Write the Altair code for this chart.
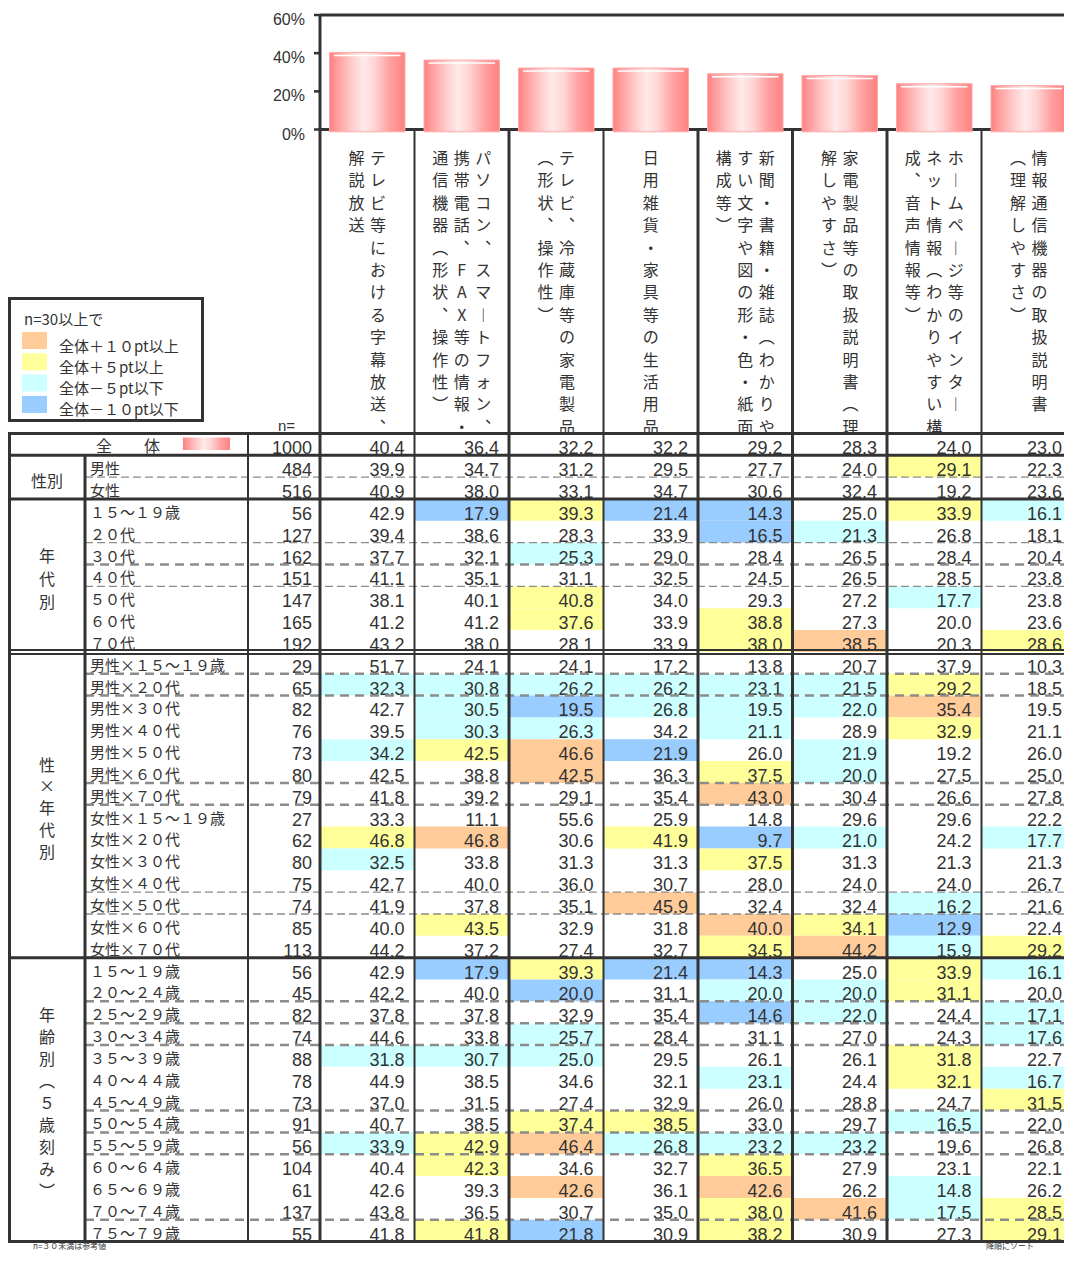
import altair as alt

# ------------------------------------------------------------------ data
items = [
    "テレビ等における字幕放送、解説放送",
    "パソコン、スマートフォン、携帯電話、FAX等の情報・通信機器（形状、操作性）",
    "テレビ、冷蔵庫等の家電製品（形状、操作性）",
    "日用雑貨・家具等の生活用品",
    "新聞・書籍・雑誌（わかりやすい文字や図の形・色・紙面構成等）",
    "家電製品等の取扱説明書（理解しやすさ）",
    "ホームページ等のインターネット情報（わかりやすい構成、音声情報等）",
    "情報通信機器の取扱説明書（理解しやすさ）",
]
# the same headers as they are wrapped in the picture (right-most line first)
item_lines = [
    ["テレビ等における字幕放送、", "解説放送"],
    ["パソコン、スマートフォン、", "携帯電話、FAX等の情報・", "通信機器（形状、操作性）"],
    ["テレビ、冷蔵庫等の家電製品", "（形状、操作性）"],
    ["日用雑貨・家具等の生活用品"],
    ["新聞・書籍・雑誌（わかりや", "すい文字や図の形・色・紙面", "構成等）"],
    ["家電製品等の取扱説明書（理", "解しやすさ）"],
    ["ホームページ等のインター", "ネット情報（わかりやすい構", "成、音声情報等）"],
    ["情報通信機器の取扱説明書", "（理解しやすさ）"],
]

row_labels = [
    "全　　体",
    "男性", "女性",
    "１５～１９歳", "２０代", "３０代", "４０代", "５０代", "６０代", "７０代",
    "男性×１５～１９歳", "男性×２０代", "男性×３０代", "男性×４０代", "男性×５０代", "男性×６０代", "男性×７０代",
    "女性×１５～１９歳", "女性×２０代", "女性×３０代", "女性×４０代", "女性×５０代", "女性×６０代", "女性×７０代",
    "１５～１９歳", "２０～２４歳", "２５～２９歳", "３０～３４歳", "３５～３９歳", "４０～４４歳", "４５～４９歳",
    "５０～５４歳", "５５～５９歳", "６０～６４歳", "６５～６９歳", "７０～７４歳", "７５～７９歳",
]
row_n = [1000, 484, 516, 56, 127, 162, 151, 147, 165, 192,
         29, 65, 82, 76, 73, 80, 79, 27, 62, 80, 75, 74, 85, 113,
         56, 45, 82, 74, 88, 78, 73, 91, 56, 104, 61, 137, 55]

col_1 = [40.4, 39.9, 40.9, 42.9, 39.4, 37.7, 41.1, 38.1, 41.2, 43.2,
         51.7, 32.3, 42.7, 39.5, 34.2, 42.5, 41.8, 33.3, 46.8, 32.5, 42.7, 41.9, 40.0, 44.2,
         42.9, 42.2, 37.8, 44.6, 31.8, 44.9, 37.0, 40.7, 33.9, 40.4, 42.6, 43.8, 41.8]
col_2 = [36.4, 34.7, 38.0, 17.9, 38.6, 32.1, 35.1, 40.1, 41.2, 38.0,
         24.1, 30.8, 30.5, 30.3, 42.5, 38.8, 39.2, 11.1, 46.8, 33.8, 40.0, 37.8, 43.5, 37.2,
         17.9, 40.0, 37.8, 33.8, 30.7, 38.5, 31.5, 38.5, 42.9, 42.3, 39.3, 36.5, 41.8]
col_3 = [32.2, 31.2, 33.1, 39.3, 28.3, 25.3, 31.1, 40.8, 37.6, 28.1,
         24.1, 26.2, 19.5, 26.3, 46.6, 42.5, 29.1, 55.6, 30.6, 31.3, 36.0, 35.1, 32.9, 27.4,
         39.3, 20.0, 32.9, 25.7, 25.0, 34.6, 27.4, 37.4, 46.4, 34.6, 42.6, 30.7, 21.8]
col_4 = [32.2, 29.5, 34.7, 21.4, 33.9, 29.0, 32.5, 34.0, 33.9, 33.9,
         17.2, 26.2, 26.8, 34.2, 21.9, 36.3, 35.4, 25.9, 41.9, 31.3, 30.7, 45.9, 31.8, 32.7,
         21.4, 31.1, 35.4, 28.4, 29.5, 32.1, 32.9, 38.5, 26.8, 32.7, 36.1, 35.0, 30.9]
col_5 = [29.2, 27.7, 30.6, 14.3, 16.5, 28.4, 24.5, 29.3, 38.8, 38.0,
         13.8, 23.1, 19.5, 21.1, 26.0, 37.5, 43.0, 14.8, 9.7, 37.5, 28.0, 32.4, 40.0, 34.5,
         14.3, 20.0, 14.6, 31.1, 26.1, 23.1, 26.0, 33.0, 23.2, 36.5, 42.6, 38.0, 38.2]
col_6 = [28.3, 24.0, 32.4, 25.0, 21.3, 26.5, 26.5, 27.2, 27.3, 38.5,
         20.7, 21.5, 22.0, 28.9, 21.9, 20.0, 30.4, 29.6, 21.0, 31.3, 24.0, 32.4, 34.1, 44.2,
         25.0, 20.0, 22.0, 27.0, 26.1, 24.4, 28.8, 29.7, 23.2, 27.9, 26.2, 41.6, 30.9]
col_7 = [24.0, 29.1, 19.2, 33.9, 26.8, 28.4, 28.5, 17.7, 20.0, 20.3,
         37.9, 29.2, 35.4, 32.9, 19.2, 27.5, 26.6, 29.6, 24.2, 21.3, 24.0, 16.2, 12.9, 15.9,
         33.9, 31.1, 24.4, 24.3, 31.8, 32.1, 24.7, 16.5, 19.6, 23.1, 14.8, 17.5, 27.3]
col_8 = [23.0, 22.3, 23.6, 16.1, 18.1, 20.4, 23.8, 23.8, 23.6, 28.6,
         10.3, 18.5, 19.5, 21.1, 26.0, 25.0, 27.8, 22.2, 17.7, 21.3, 26.7, 21.6, 22.4, 29.2,
         16.1, 20.0, 17.1, 17.6, 22.7, 16.7, 31.5, 22.0, 26.8, 22.1, 26.2, 28.5, 29.1]
columns = [col_1, col_2, col_3, col_4, col_5, col_6, col_7, col_8]

group_names = ["性別", "年代別", "性×年代別", "年齢別（５歳刻み）"]
group_rows = [(1, 3), (3, 10), (10, 24), (24, 37)]

legend_title = "n=30以上で"
legend_labels = ["全体＋１０pt以上", "全体＋５pt以上", "全体－５pt以下", "全体－１０pt以下"]
legend_colors = ["#FFCC99", "#FFFF99", "#CCFFFF", "#99CCFF"]
axis_ticks = [0, 20, 40, 60]
n_header = "n="
note_left = "n=３０未満は参考値"
note_right = "降順にソート"

# ------------------------------------------------------------------ layout
ORIGIN = 8           # page offset of the drawing
W = 1056             # page x 8 .. 1064 (the page keeps its 8px right margin)
H = 1242             # page y 8 .. 1250
COLW = 94.5          # px per data column
DATA_X0 = 320.0      # page x of the first data column
TABLE_Y0 = 433.5     # page y of the table top
PITCH = 21.84        # px per table row
A_TOP, A_BOT = 15.0, 129.5   # page y of 60% and 0%
PX_PER_PCT = (A_BOT - A_TOP) / 60.0


def ux(px):
    return (px - DATA_X0) / COLW


def uy(py):
    return (py - TABLE_Y0) / PITCH


XDOM = [ux(ORIGIN), ux(ORIGIN + W)]
YDOM = [uy(ORIGIN), uy(ORIGIN + H)]
YADOM = [-(ORIGIN + H - A_BOT) / PX_PER_PCT, (A_BOT - ORIGIN) / PX_PER_PCT]
XEND = XDOM[1]
TEXT_XMAX = ux(1072)   # keeps the right-most column's numbers inside the picture

INK = "#333333"
DASHC = "#8c8c8c"
NUMF = "Liberation Sans"
JPF = "Noto Sans CJK JP"
VERT = {"、": "︑", "（": "︵", "）": "︶", "ー": "︱"}

xs = alt.Scale(domain=XDOM, nice=False, zero=False)
ys = alt.Scale(domain=YDOM, nice=False, zero=False, reverse=True)
ya = alt.Scale(domain=YADOM, nice=False, zero=False)


def X(f):
    return alt.X(f"{f}:Q", scale=xs, axis=None)


def Y(f):
    return alt.Y(f"{f}:Q", scale=ys, axis=None)


def YA(f):
    return alt.Y(f"{f}:Q", scale=ya, axis=None)


grad = alt.Gradient(
    gradient="linear", x1=0, x2=1, y1=0, y2=0,
    stops=[
        alt.GradientStop(offset=0.0, color="#ff8080"),
        alt.GradientStop(offset=0.1, color="#ff9c9c"),
        alt.GradientStop(offset=0.28, color="#ffc8c8"),
        alt.GradientStop(offset=0.45, color="#ffeaea"),
        alt.GradientStop(offset=0.6, color="#ffd4d4"),
        alt.GradientStop(offset=0.8, color="#ffa0a0"),
        alt.GradientStop(offset=1.0, color="#ff8282"),
    ],
)

# ------------------------------------------------------------------ bar chart part
bars_data = alt.Data(values=[{"col": j, "value": c[0]} for j, c in enumerate(columns)])
tick_data = alt.Data(values=[{"v": t} for t in axis_ticks])
inset = 9.5 / COLW
frame_h = alt.Chart(alt.Data(values=[{"v": 60}, {"v": 0}])).transform_calculate(
    x0="0", x1=str(XEND)).mark_rule(color=INK, strokeWidth=3).encode(
    x=X("x0"), x2="x1", y=YA("v"))
frame_v = alt.Chart(alt.Data(values=[{"a": 0, "b": 60}])).transform_calculate(
    x0="0").mark_rule(color=INK, strokeWidth=3).encode(x=X("x0"), y=YA("a"), y2="b")
ticks = alt.Chart(tick_data).transform_calculate(
    x0=str(ux(314)), x1="0").mark_rule(color=INK, strokeWidth=2.5).encode(
    x=X("x0"), x2="x1", y=YA("v"))
tick_labels = alt.Chart(tick_data).transform_calculate(
    x0=str(ux(305)), t="datum.v + '%'").mark_text(
    align="right", baseline="middle", dy=5, font=NUMF, fontSize=16, color=INK).encode(
    x=X("x0"), y=YA("v"), text="t:N")
bars = alt.Chart(bars_data).transform_calculate(
    x0=f"datum.col + {inset}", x1=f"datum.col + 1 - {inset}", base="-1.2"
).mark_rect(color=grad, stroke="#ffa8a8", strokeWidth=1).encode(
    x=X("x0"), x2="x1", y=YA("value"), y2="base")
shine = alt.Chart(bars_data).transform_calculate(
    x0=f"datum.col + {14 / COLW}", x1=f"datum.col + 1 - {14 / COLW}"
).mark_rule(color="white", strokeWidth=1.5, yOffset=3).encode(
    x=X("x0"), x2="x1", y=YA("value"))

# ------------------------------------------------------------------ table part
def category(v, total, n):
    if n < 30:
        return None
    d = round(v - total, 1)
    if d >= 10:
        return legend_labels[0]
    if d >= 5:
        return legend_labels[1]
    if d <= -10:
        return legend_labels[3]
    if d <= -5:
        return legend_labels[2]
    return None


cells = []
for j, col in enumerate(columns):
    for i, v in enumerate(col):
        cells.append({"row": i, "col": j, "label": f"{v:.1f}",
                      "cat": category(v, col[0], row_n[i])})
fill_cells = [c for c in cells if c["cat"]]
cat_scale = alt.Scale(domain=legend_labels, range=legend_colors)

fills = alt.Chart(alt.Data(values=fill_cells)).transform_calculate(
    x1="datum.col + 1", y1="datum.row + 1"
).mark_rect().encode(
    x=X("col"), x2="x1", y=Y("row"), y2="y1",
    color=alt.Color("cat:N", scale=cat_scale, legend=None))

values = alt.Chart(alt.Data(values=cells)).transform_calculate(
    xr=f"min(datum.col + 1, {TEXT_XMAX})", yb="datum.row + 1"
).mark_text(align="right", baseline="alphabetic", dx=-10, dy=-1, font=NUMF, fontSize=18,
            color=INK).encode(x=X("xr"), y=Y("yb"), text="label:N")

rows = [{"row": i, "label": l, "n": str(n)} for i, (l, n) in enumerate(zip(row_labels, row_n))]
ntext = alt.Chart(alt.Data(values=rows)).transform_calculate(
    xr="0", yb="datum.row + 1"
).mark_text(align="right", baseline="alphabetic", dx=-8, dy=-1, font=NUMF, fontSize=18,
            color=INK).encode(x=X("xr"), y=Y("yb"), text="n:N")

rlabels = alt.Chart(alt.Data(values=rows[1:])).transform_calculate(
    xl=str(ux(90)), yb="datum.row + 1"
).mark_text(align="left", baseline="alphabetic", dy=-3, font=JPF, fontSize=15,
            color=INK).encode(x=X("xl"), y=Y("yb"), text="label:N")
total_label = alt.Chart(alt.Data(values=rows[:1])).transform_calculate(
    xl=str(ux(96)), yb="datum.row + 1"
).mark_text(align="left", baseline="alphabetic", dy=-3, font=JPF, fontSize=16,
            color=INK).encode(x=X("xl"), y=Y("yb"), text="label:N")
icon = alt.Chart(alt.Data(values=[{"a": ux(183), "b": ux(230), "c": uy(437.5), "d": uy(450)}])).mark_rect(
    color=grad).encode(x=X("a"), x2="b", y=Y("c"), y2="d")

# group labels
grp_h, grp_v = [], []
group_lh = [0, 23.0, 21.8, 22.0]
for name, (r0, r1), lh in zip(group_names, group_rows, group_lh):
    cpx = TABLE_Y0 + PITCH * (r0 + r1) / 2 + 3.5
    if lh == 0:
        grp_h.append({"x": ux(47), "y": uy(cpx + 1.3), "t": name})
    else:
        chars = [VERT.get(c, c) for c in name]
        top = cpx - (len(chars) - 1) * lh / 2 - 7
        grp_v.append({"x": ux(47), "y": uy(top), "t": chars, "lh": lh})
glab_h = alt.Chart(alt.Data(values=grp_h)).mark_text(
    align="center", baseline="middle", font=JPF, fontSize=16, color=INK).encode(
    x=X("x"), y=Y("y"), text="t:N")
glab_v = [alt.Chart(alt.Data(values=[g])).mark_text(
    align="center", baseline="top", font=JPF, fontSize=16, color=INK, lineHeight=g["lh"]).encode(
    x=X("x"), y=Y("y"), text="t:N") for g in grp_v]

# header (vertical writing)
SUBW = 21.5 / COLW
hdr = []
for j, lines in enumerate(item_lines):
    n = len(lines)
    for k, line in enumerate(lines):
        hdr.append({"x": j + 0.5 + ((n - 1) / 2 - k) * SUBW, "y": uy(158 - 7),
                    "t": [VERT.get(c, c) for c in line]})
header = alt.Chart(alt.Data(values=hdr)).mark_text(
    align="center", baseline="top", font=JPF, fontSize=16, color=INK, lineHeight=22.4).encode(
    x=X("x"), y=Y("y"), text="t:N")
nhead = alt.Chart(alt.Data(values=[{"x": ux(278), "y": uy(426.3), "t": n_header}])).mark_text(
    align="left", baseline="middle", font=NUMF, fontSize=15, color=INK).encode(
    x=X("x"), y=Y("y"), text="t:N")

# lines
solid_thick = [0, 1, 3, 24, 37]
double_k = [10]
dash_thin = [2, 5, 7, 21, 22]
dash_thick = [6, 11, 12, 16, 17, 26, 27, 28, 31, 32, 33, 36]
off = 2.0 / PITCH
h_solid = [{"a": ux(8), "b": XEND, "y": k} for k in solid_thick]
h_double = [{"a": ux(8), "b": XEND, "y": k + s} for k in double_k for s in (-off, off)]
h_dthin = [{"a": ux(85), "b": XEND, "y": k} for k in dash_thin]
h_dthick = [{"a": ux(85), "b": XEND, "y": k} for k in dash_thick]


def hrule(vals, **kw):
    return alt.Chart(alt.Data(values=vals)).mark_rule(**kw).encode(x=X("a"), x2="b", y=Y("y"))


l_dthin = hrule(h_dthin, color=DASHC, strokeWidth=1.3, strokeDash=[8, 4])
l_dthick = hrule(h_dthick, color=DASHC, strokeWidth=2.5, strokeDash=[9, 6])
l_solid = hrule(h_solid, color=INK, strokeWidth=3)
l_double = hrule(h_double, color=INK, strokeWidth=2)

top_b = uy(A_BOT)
v_thick = [{"x": ux(9.5), "a": 0, "b": 37}, {"x": ux(85), "a": 1, "b": 37},
           {"x": 0, "a": top_b, "b": 37}] + \
          [{"x": j, "a": top_b, "b": 37} for j in (2, 4, 5, 6)]
v_thin = [{"x": ux(248), "a": 0, "b": 37}] + [{"x": j, "a": top_b, "b": 37} for j in (1, 3, 7)]


def vrule(vals, **kw):
    return alt.Chart(alt.Data(values=vals)).mark_rule(**kw).encode(x=X("x"), y=Y("a"), y2="b")


l_vthick = vrule(v_thick, color=INK, strokeWidth=3)
l_vthin = vrule(v_thin, color=INK, strokeWidth=2)

# legend box
lg_box = alt.Chart(alt.Data(values=[{"a": ux(9.5), "b": ux(202.5), "c": uy(298.5), "d": uy(420.5)}])).mark_rect(
    fill="white", stroke=INK, strokeWidth=3).encode(x=X("a"), x2="b", y=Y("c"), y2="d")
lg_sw = alt.Chart(alt.Data(values=[
    {"a": ux(22), "b": ux(47), "c": uy(332 + 21.3 * i), "d": uy(349 + 21.3 * i), "cat": l}
    for i, l in enumerate(legend_labels)])).mark_rect().encode(
    x=X("a"), x2="b", y=Y("c"), y2="d",
    color=alt.Color("cat:N", scale=cat_scale, legend=None))
lg_txt = alt.Chart(alt.Data(values=[
    {"x": ux(59), "y": uy(346.5 + 21.3 * i), "t": l} for i, l in enumerate(legend_labels)] +
    [{"x": ux(24), "y": uy(320.3), "t": legend_title}])).mark_text(
    align="left", baseline="middle", font=JPF, fontSize=15, color=INK).encode(
    x=X("x"), y=Y("y"), text="t:N")

notes = alt.Chart(alt.Data(values=[{"x": ux(33), "y": uy(1247.2), "t": note_left},
                                   {"x": ux(986), "y": uy(1247.2), "t": note_right}])).mark_text(
    align="left", baseline="middle", font=JPF, fontSize=8, color=INK).encode(
    x=X("x"), y=Y("y"), text="t:N")

chart = alt.layer(
    frame_h, frame_v, ticks, tick_labels, bars, shine,
    fills, values, ntext, rlabels, total_label, icon, glab_h, *glab_v,
    l_dthin, l_dthick, l_solid, l_double, l_vthick, l_vthin,
    header, nhead, lg_box, lg_sw, lg_txt, notes,
).resolve_scale(y="independent").properties(
    width=W, height=H,
    autosize=alt.AutoSizeParams(type="none"),
    padding={"top": 0, "left": 0, "right": 0, "bottom": 0},
).configure(background="white").configure_view(strokeWidth=0)

chart.save("out.html", embed_options={"renderer": "svg", "actions": False})
